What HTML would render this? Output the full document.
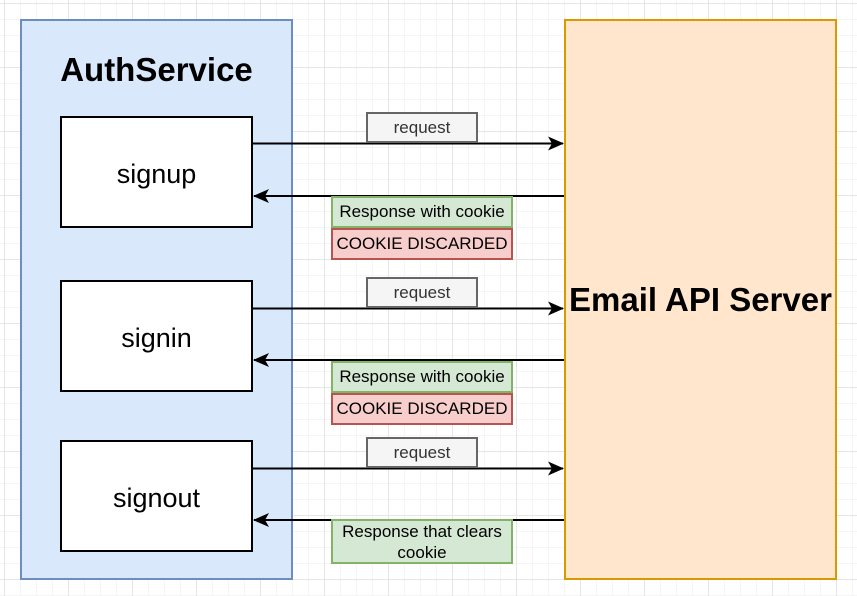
<!DOCTYPE html>
<html><head><style>
body{margin:0;width:857px;height:596px;overflow:hidden;background:#fff;
background-image:linear-gradient(#e6e6e6 1px,transparent 1px),linear-gradient(90deg,#e6e6e6 1px,transparent 1px),linear-gradient(#f5f5f5 1px,transparent 1px),linear-gradient(90deg,#f5f5f5 1px,transparent 1px);
background-size:64px 64px,64px 64px,16px 16px,16px 16px;background-position:4px 3px,4px 3px,4px 3px,4px 3px;
font-family:"Liberation Sans",sans-serif;position:relative}
div{position:absolute;box-sizing:border-box;display:flex;align-items:center;justify-content:center;text-align:center}
.n{background:#fff;border:2px solid #000;font-size:27px;left:60px;width:193px;height:112px;padding-top:4px}
.rq{left:366px;width:112px;height:31px;background:#f5f5f5;border:2px solid #666;font-size:17px;color:#333}
.g{left:331px;width:182px;height:32px;background:#d5e8d4;border:2px solid #82b366;font-size:17px}
.r{left:331px;width:182px;height:32px;background:#f8cecc;border:2px solid #b85450;font-size:17px}
</style></head><body>
<div style="left:20px;top:19px;width:273px;height:561px;background:#dae8fc;border:2px solid #6c8ebf;align-items:flex-start;padding-top:30px;font-weight:bold;font-size:33px">AuthService</div>
<div style="left:564px;top:19px;width:273px;height:561px;background:#ffe6cc;border:2px solid #d79b00;font-weight:bold;font-size:33px;white-space:nowrap">Email API Server</div>
<div class="n" style="top:116px">signup</div>
<div class="n" style="top:280px">signin</div>
<div class="n" style="top:440px">signout</div>
<svg width="857" height="596" style="position:absolute;left:0;top:0">
<defs><marker id="a" markerWidth="16" markerHeight="14" refX="15" refY="7" orient="auto" markerUnits="userSpaceOnUse"><path d="M0,0 L16,7 L0,14 L4,7z" fill="#000"/></marker></defs>
<g stroke="#000" stroke-width="2" marker-end="url(#a)">
<line x1="253" y1="143.5" x2="563" y2="143.5"/>
<line x1="253" y1="308.5" x2="563" y2="308.5"/>
<line x1="253" y1="468.5" x2="563" y2="468.5"/>
<line x1="564" y1="196" x2="254" y2="196"/>
<line x1="564" y1="360" x2="254" y2="360"/>
<line x1="564" y1="520" x2="254" y2="520"/>
</g></svg>
<div class="rq" style="top:112px">request</div>
<div class="rq" style="top:277px">request</div>
<div class="rq" style="top:437px">request</div>
<div class="g" style="top:196px">Response with cookie</div>
<div class="r" style="top:228px">COOKIE DISCARDED</div>
<div class="g" style="top:361px">Response with cookie</div>
<div class="r" style="top:393px">COOKIE DISCARDED</div>
<div class="g" style="top:519px;height:45px;line-height:21px">Response that clears<br>cookie</div>
</body></html>
